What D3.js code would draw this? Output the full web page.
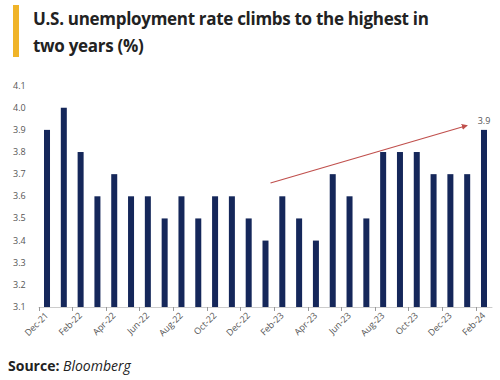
<!DOCTYPE html>
<html><head><meta charset="utf-8">
<script src="https://cdn.jsdelivr.net/npm/d3@7"></script>
<style>body{margin:0;background:#fff}svg{display:block}</style>
</head><body>
<svg id="c" width="500" height="380"></svg>
<script>
const months = ["Dec-21","Jan-22","Feb-22","Mar-22","Apr-22","May-22","Jun-22","Jul-22","Aug-22","Sep-22","Oct-22","Nov-22","Dec-22","Jan-23","Feb-23","Mar-23","Apr-23","May-23","Jun-23","Jul-23","Aug-23","Sep-23","Oct-23","Nov-23","Dec-23","Jan-24","Feb-24"];
const rates = [3.9,4.0,3.8,3.6,3.7,3.6,3.6,3.5,3.6,3.5,3.6,3.6,3.5,3.4,3.6,3.5,3.4,3.7,3.6,3.5,3.8,3.8,3.8,3.7,3.7,3.7,3.9];
const yTicks = [3.1,3.2,3.3,3.4,3.5,3.6,3.7,3.8,3.9,4.0,4.1];
const trendStart = ["Jan-23", 3.66];
const trendEnd = ["Jan-24", 3.92];

const svg = d3.select("#c");
const x = d3.scaleBand().domain(months).range([38.6, 492.4]);
const y = d3.scaleLinear().domain([3.1, 4.1]).range([307, 85.6]);

// title
svg.append("rect").attr("x",13).attr("y",5).attr("width",6).attr("height",52).attr("fill","#f0b429");
const t = svg.append("text").attr("font-family","'Open Sans', sans-serif").attr("font-weight","bold").attr("font-size",17).attr("letter-spacing",-0.3).attr("fill","#222");
t.append("tspan").attr("x",33).attr("y",25).text("U.S. unemployment rate climbs to the highest in");
t.append("tspan").attr("x",33).attr("y",52).text("two years (%)");

// y labels
svg.append("g").selectAll("text").data(yTicks).join("text")
  .attr("x",13).attr("y",d=>y(d)+3)
  .attr("font-family","'Open Sans', sans-serif").attr("font-size",9).attr("fill","#555")
  .text(d=>d.toFixed(1));

// bars
const bw = 6;
svg.append("g").selectAll("rect").data(rates).join("rect")
  .attr("x",(d,i)=>x(months[i])+x.bandwidth()/2-bw/2)
  .attr("y",d=>y(d)).attr("width",bw).attr("height",d=>y(3.1)-y(d))
  .attr("fill","#15275a");

// x axis line & ticks
svg.append("line").attr("x1",38.6).attr("x2",492.4).attr("y1",307.5).attr("y2",307.5).attr("stroke","#ccc");
const labeled = months.filter((m,i)=>i%2===0);
svg.append("g").selectAll("line").data(labeled).join("line")
  .attr("x1",d=>Math.round(x(d))+0.5).attr("x2",d=>Math.round(x(d))+0.5).attr("y1",307).attr("y2",311).attr("stroke","#999");
svg.append("g").selectAll("text").data(labeled).join("text")
  .attr("transform",d=>`translate(${x(d)+x.bandwidth()/2+2},${316}) rotate(-45)`)
  .attr("text-anchor","end")
  .attr("font-family","'Open Sans', sans-serif").attr("font-size",9).attr("fill","#555")
  .text(d=>d);

// trend arrow
svg.append("defs").append("marker").attr("id","ah").attr("viewBox","0 0 10 10").attr("refX",9).attr("refY",5)
  .attr("markerWidth",5).attr("markerHeight",5).attr("orient","auto")
  .append("path").attr("d","M0,0L10,5L0,10z").attr("fill","#c0504d");
svg.append("line")
  .attr("x1",x(trendStart[0])+x.bandwidth()/2+5).attr("y1",y(trendStart[1]))
  .attr("x2",x(trendEnd[0])+x.bandwidth()/2).attr("y2",y(trendEnd[1]))
  .attr("stroke","#c0504d").attr("stroke-width",1.2).attr("marker-end","url(#ah)");

// last label
svg.append("text").attr("x",x(months[months.length-1])+x.bandwidth()/2).attr("y",y(rates[rates.length-1])-6)
  .attr("text-anchor","middle").attr("font-family","'Open Sans', sans-serif").attr("font-size",9).attr("fill","#555")
  .text(rates[rates.length-1].toFixed(1));

// source
const s = svg.append("text").attr("x",8).attr("y",371).attr("font-family","'Open Sans', sans-serif").attr("font-size",14).attr("fill","#222");
s.append("tspan").attr("font-weight","bold").text("Source: ");
s.append("tspan").attr("font-style","italic").text("Bloomberg");
</script>
</body></html>
